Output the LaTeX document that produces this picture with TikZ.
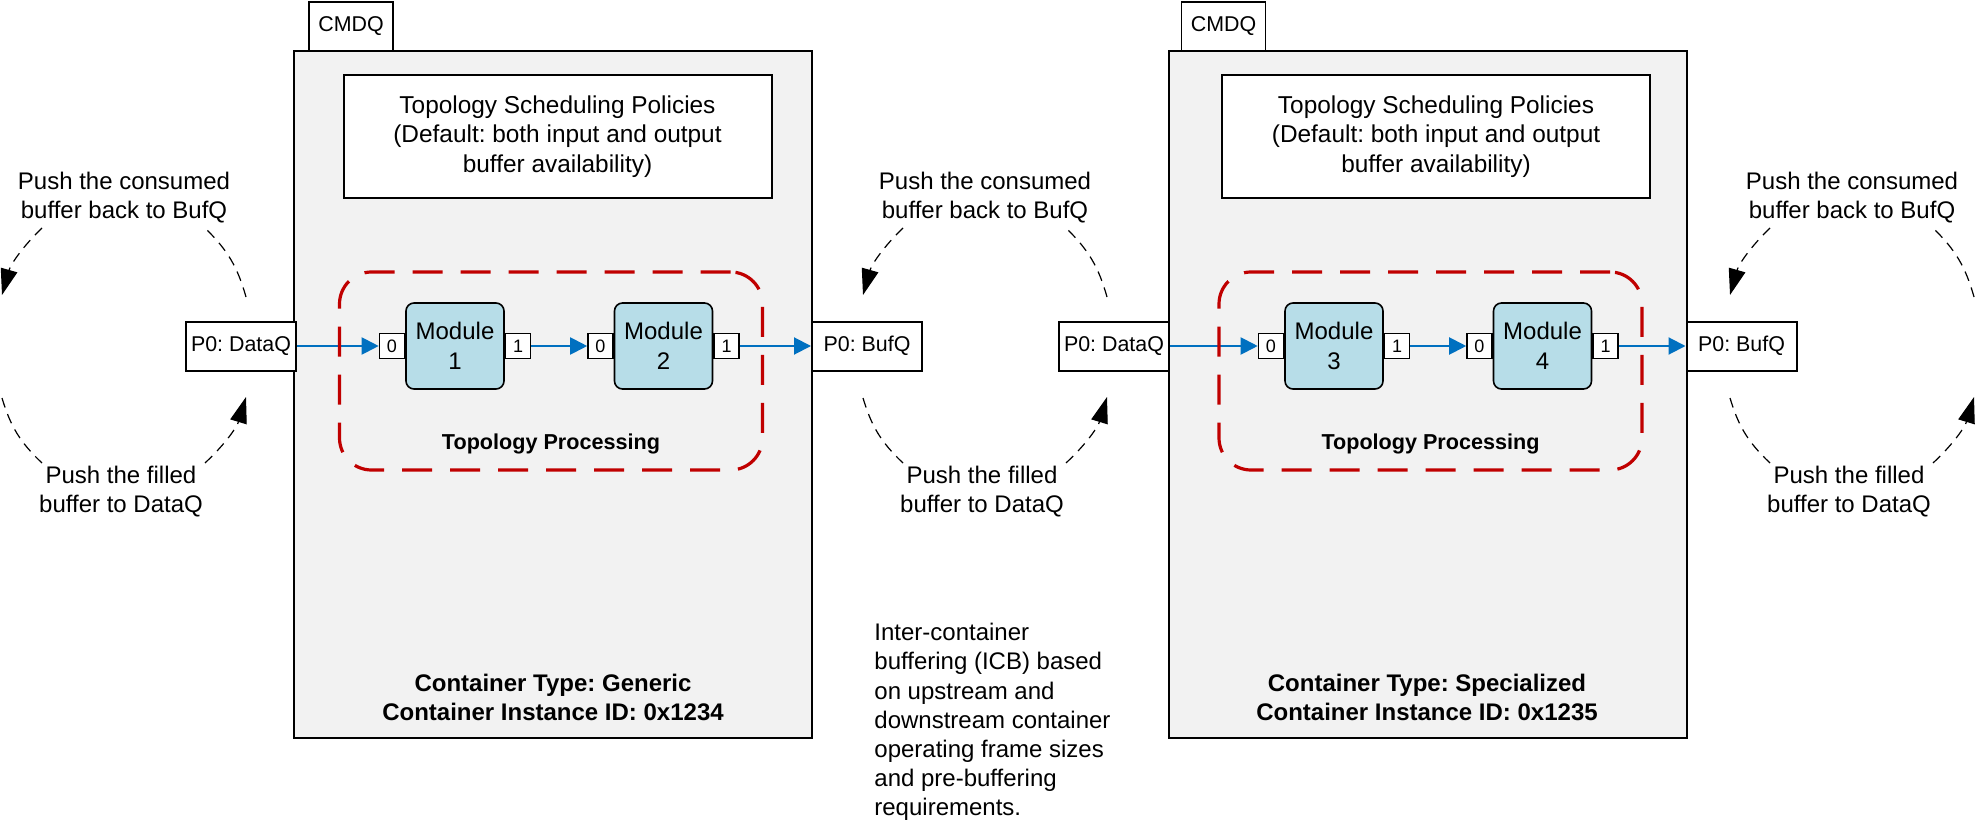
\documentclass[tikz,border=0pt]{standalone}
\usepackage{fontspec}
\setmainfont{Liberation Sans}
\usetikzlibrary{positioning}
\usetikzlibrary{arrows.meta}

\definecolor{boxgrey}{HTML}{F2F2F2}
\definecolor{modblue}{HTML}{B7DDE8}
\definecolor{groupred}{HTML}{C00000}
\definecolor{flowblue}{HTML}{0070C0}

\tikzset{
	container/.style = {draw = black, line width = 1pt, fill = boxgrey, inner sep = 0pt, minimum width = 259pt, minimum height = 343.5pt},
	cmdqtab/.style = {draw = black, line width = 0.8pt, fill = white, inner sep = 0pt, minimum width = 42pt, minimum height = 24.5pt, font = \fontsize{10.7}{12}\selectfont},
	policy/.style = {draw = black, line width = 1pt, fill = white, inner sep = 0pt, minimum width = 214pt, minimum height = 61.5pt, align = center, font = \fontsize{12.2}{14.7}\selectfont},
	procgroup/.style = {draw = groupred, line width = 1.6pt, dash pattern = on 15pt off 9pt, rounded corners = 16pt, inner sep = 0pt, minimum width = 211.5pt, minimum height = 99pt},
	module/.style = {draw = black, line width = 0.8pt, fill = modblue, rounded corners = 4pt, inner sep = 0pt, minimum width = 49pt, minimum height = 43pt, align = center, font = \fontsize{12}{15}\selectfont},
	portbox/.style = {draw = black, line width = 0.75pt, fill = white, inner sep = 0pt, minimum size = 12.5pt, font = \fontsize{9}{10}\selectfont},
	qbox/.style = {draw = black, line width = 1pt, fill = white, inner sep = 0pt, minimum width = 55pt, minimum height = 24.5pt, font = \fontsize{10.7}{12}\selectfont},
	flow/.style = {draw = flowblue, line width = 1pt, -{Triangle[length = 8.5pt, width = 8.5pt]}},
	bufloop/.style = {black, line width = 0.6pt, dash pattern = on 5pt off 3.5pt},
	looptip/.style = {-{Triangle[length = 13pt, width = 8.5pt]}},
	looptext/.style = {align = center, inner sep = 0pt, font = \fontsize{12}{14.5}\selectfont},
	ctype/.style = {align = center, inner sep = 0pt, font = \bfseries\fontsize{12}{14.5}\selectfont},
	tptext/.style = {inner sep = 0pt, font = \bfseries\fontsize{10.8}{12}\selectfont},
}

\begin{document}
\frenchspacing
\begin{tikzpicture}[x = 0.5pt, y = -0.5pt]
	\useasboundingbox (0, 0) rectangle (1980, 834);
	\node (box1) at (553, 394.5) [container] {};
	\node (box2) at (1428, 394.5) [container] {};
	\node (tab1) at (351, 26.5) [cmdqtab] {CMDQ};
	\node (tab2) at (1223.5, 26.5) [cmdqtab] {CMDQ};
	\node (pol1) at (557.5, 136.5) [policy] {Topology Scheduling Policies\\(Default: both input and output\\buffer availability)};
	\node (pol2) at (1436, 136.5) [policy] {Topology Scheduling Policies\\(Default: both input and output\\buffer availability)};

	\node (m1) at (455, 346) [module] {Module\\1};
	\node (m1in) [portbox, left = 0pt of m1] {0};
	\node (m1out) [portbox, right = 0pt of m1] {1};
	\node (m2) at (663.5, 346) [module] {Module\\2};
	\node (m2in) [portbox, left = 0pt of m2] {0};
	\node (m2out) [portbox, right = 0pt of m2] {1};
	\node (m3) at (1334, 346) [module] {Module\\3};
	\node (m3in) [portbox, left = 0pt of m3] {0};
	\node (m3out) [portbox, right = 0pt of m3] {1};
	\node (m4) at (1542.5, 346) [module] {Module\\4};
	\node (m4in) [portbox, left = 0pt of m4] {0};
	\node (m4out) [portbox, right = 0pt of m4] {1};

	\node (dq1) at (241, 346) [qbox] {P0: DataQ};
	\node (bq1) at (867, 346) [qbox] {P0: BufQ};
	\node (dq2) at (1114, 346) [qbox] {P0: DataQ};
	\node (bq2) at (1741.5, 346) [qbox] {P0: BufQ};

	\draw [flow] (dq1) -- (m1in);
	\draw [flow] (m1out) -- (m2in);
	\draw [flow] (m2out) -- (bq1);
	\draw [flow] (dq2) -- (m3in);
	\draw [flow] (m3out) -- (m4in);
	\draw [flow] (m4out) -- (bq2);

	\node (grp1) at (551, 371) [procgroup] {};
	\node (grp2) at (1430.5, 371) [procgroup] {};
	\node (tp1) at (551, 444) [tptext] {Topology Processing};
	\node (tp2) at (1430.5, 444) [tptext] {Topology Processing};

	\node (ct1) at (553, 697.5) [ctype] {Container Type: Generic\\Container Instance ID: 0x1234};
	\node (ct2) at (1427, 697.5) [ctype] {Container Type: Specialized\\Container Instance ID: 0x1235};
	\node (icb) at (874, 722) [anchor = west, align = left, inner sep = 0pt, font = \fontsize{12}{14.6}\selectfont] {Inter-container\\buffering (ICB) based\\on upstream and\\downstream container\\operating frame sizes\\and pre-buffering\\requirements.};

	\foreach \cx/\q in {124/a, 985/b, 1852/c} {
		\node (push\q) at (\cx, 197.5) [looptext] {Push the consumed\\buffer back to BufQ};
		\node (fill\q) at (\cx - 3, 492) [looptext] {Push the filled\\buffer to DataQ};
		\coordinate (tla\q) at (\cx - 82, 228);
		\coordinate (tlb\q) at (\cx - 122, 295);
		\coordinate (tra\q) at (\cx + 122, 297);
		\coordinate (trb\q) at (\cx + 81, 228);
		\coordinate (bla\q) at (\cx - 122, 398);
		\coordinate (blb\q) at (\cx - 82, 463);
		\coordinate (bra\q) at (\cx + 81, 463);
		\coordinate (brb\q) at (\cx + 122, 397);
		\draw [bufloop, looptip] (tla\q) to [bend right = 15] (tlb\q);
		\draw [bufloop] (tra\q) to [bend right = 15] (trb\q);
		\draw [bufloop] (bla\q) to [bend right = 15] (blb\q);
		\draw [bufloop, looptip] (bra\q) to [bend right = 15] (brb\q);
	}
\end{tikzpicture}
\end{document}
